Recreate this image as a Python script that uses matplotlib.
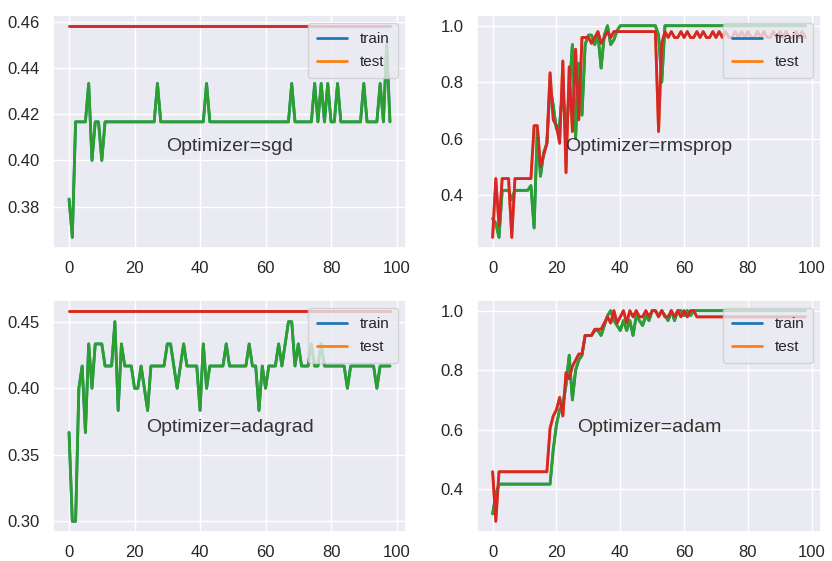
import matplotlib
matplotlib.use("Agg")
import matplotlib.pyplot as plt
import seaborn as sns

optimizers = ["sgd", "rmsprop", "adagrad", "adam"]
legend_labels = ["train", "test"]
text_prefix = "Optimizer="
x_ticks = [0, 20, 40, 60, 80, 100]
y_ticks = {
    "sgd": [0.38, 0.40, 0.42, 0.44, 0.46],
    "rmsprop": [0.4, 0.6, 0.8, 1.0],
    "adagrad": [0.30, 0.35, 0.40, 0.45],
    "adam": [0.4, 0.6, 0.8, 1.0],
}
y_tick_labels = {
    "sgd": ["0.38", "0.40", "0.42", "0.44", "0.46"],
    "rmsprop": ["0.4", "0.6", "0.8", "1.0"],
    "adagrad": ["0.30", "0.35", "0.40", "0.45"],
    "adam": ["0.4", "0.6", "0.8", "1.0"],
}

sgd_train = [
    0.3833, 0.3667, 0.4167, 0.4167, 0.4167, 0.4167, 0.4333, 0.4000, 0.4167, 0.4167,
    0.4000, 0.4167, 0.4167, 0.4167, 0.4167, 0.4167, 0.4167, 0.4167, 0.4167, 0.4167,
    0.4167, 0.4167, 0.4167, 0.4167, 0.4167, 0.4167, 0.4167, 0.4333, 0.4167, 0.4167,
    0.4167, 0.4167, 0.4167, 0.4167, 0.4167, 0.4167, 0.4167, 0.4167, 0.4167, 0.4167,
    0.4167, 0.4167, 0.4333, 0.4167, 0.4167, 0.4167, 0.4167, 0.4167, 0.4167, 0.4167,
    0.4167, 0.4167, 0.4167, 0.4167, 0.4167, 0.4167, 0.4167, 0.4167, 0.4167,
    0.4167, 0.4167, 0.4167, 0.4167, 0.4167, 0.4167, 0.4167, 0.4167, 0.4167, 0.4333,
    0.4167, 0.4167, 0.4167, 0.4167, 0.4167, 0.4167, 0.4333, 0.4167, 0.4333, 0.4167,
    0.4333, 0.4167, 0.4167, 0.4333, 0.4167, 0.4167, 0.4167, 0.4167, 0.4167, 0.4167,
    0.4167, 0.4333, 0.4167, 0.4167, 0.4167, 0.4167, 0.4333, 0.4167, 0.4500, 0.4167,
]
sgd_test = [
    0.4583, 0.4583, 0.4583, 0.4583, 0.4583, 0.4583, 0.4583, 0.4583, 0.4583, 0.4583,
    0.4583, 0.4583, 0.4583, 0.4583, 0.4583, 0.4583, 0.4583, 0.4583, 0.4583, 0.4583,
    0.4583, 0.4583, 0.4583, 0.4583, 0.4583, 0.4583, 0.4583, 0.4583, 0.4583, 0.4583,
    0.4583, 0.4583, 0.4583, 0.4583, 0.4583, 0.4583, 0.4583, 0.4583, 0.4583, 0.4583,
    0.4583, 0.4583, 0.4583, 0.4583, 0.4583, 0.4583, 0.4583, 0.4583, 0.4583, 0.4583,
    0.4583, 0.4583, 0.4583, 0.4583, 0.4583, 0.4583, 0.4583, 0.4583, 0.4583,
    0.4583, 0.4583, 0.4583, 0.4583, 0.4583, 0.4583, 0.4583, 0.4583, 0.4583, 0.4583,
    0.4583, 0.4583, 0.4583, 0.4583, 0.4583, 0.4583, 0.4583, 0.4583, 0.4583, 0.4583,
    0.4583, 0.4583, 0.4583, 0.4583, 0.4583, 0.4583, 0.4583, 0.4583, 0.4583, 0.4583,
    0.4583, 0.4583, 0.4583, 0.4583, 0.4583, 0.4583, 0.4583, 0.4583, 0.4583, 0.4583,
]

rmsprop_train = [
    0.3167, 0.3000, 0.2500, 0.4167, 0.4167, 0.4167, 0.3833, 0.4167, 0.4167, 0.4167,
    0.4167, 0.4167, 0.4333, 0.2833, 0.6333, 0.4667, 0.5500, 0.5833, 0.7833, 0.7167,
    0.6333, 0.6500, 0.7833, 0.6000, 0.7667, 0.9333, 0.6000, 0.8667, 0.6833, 0.9333,
    0.9667, 0.9667, 0.9333, 0.9667, 0.8500, 0.9667, 1.0000, 0.9333, 0.9500, 0.9833,
    1.0000, 1.0000, 1.0000, 1.0000, 1.0000, 1.0000, 1.0000, 1.0000, 1.0000, 1.0000,
    1.0000, 1.0000, 0.9667, 0.8000, 1.0000, 1.0000, 1.0000, 1.0000, 1.0000, 1.0000,
    1.0000, 1.0000, 1.0000, 1.0000, 1.0000, 1.0000, 1.0000, 1.0000, 1.0000, 1.0000,
    1.0000, 1.0000, 1.0000, 1.0000, 1.0000, 1.0000, 1.0000, 1.0000, 1.0000, 1.0000,
    1.0000, 1.0000, 1.0000, 1.0000, 1.0000, 1.0000, 1.0000, 1.0000, 1.0000, 1.0000,
    1.0000, 1.0000, 1.0000, 1.0000, 1.0000, 1.0000, 1.0000, 1.0000, 1.0000,
]
rmsprop_test = [
    0.2500, 0.4583, 0.2917, 0.4583, 0.4583, 0.4583, 0.2500, 0.4583, 0.4583, 0.4583,
    0.4583, 0.4583, 0.4583, 0.6458, 0.6458, 0.5000, 0.5417, 0.5833, 0.8333, 0.6667,
    0.6458, 0.5833, 0.8750, 0.4792, 0.8542, 0.6250, 0.9167, 0.6667, 0.9583, 0.9583,
    0.9583, 0.9375, 0.9583, 0.9792, 0.9375, 0.9583, 0.9792, 0.9583, 0.9792, 0.9792,
    0.9792, 0.9792, 0.9792, 0.9792, 0.9792, 0.9792, 0.9792, 0.9792, 0.9792, 0.9792,
    0.9792, 0.9792, 0.6250, 0.9375, 0.9792, 0.9583, 0.9792, 0.9583, 0.9583, 0.9792,
    0.9583, 0.9792, 0.9583, 0.9583, 0.9792, 0.9583, 0.9792, 0.9583, 0.9583, 0.9792,
    0.9583, 0.9792, 0.9583, 0.9792, 0.9583, 0.9583, 0.9792, 0.9583, 0.9792, 0.9583,
    0.9792, 0.9583, 0.9583, 0.9792, 0.9583, 0.9792, 0.9583, 0.9583, 0.9792, 0.9583,
    0.9792, 0.9583, 0.9792, 0.9583, 0.9583, 0.9792, 0.9583, 0.9792, 0.9583,
]

adagrad_train = [
    0.3667, 0.3000, 0.3000, 0.4000, 0.4167, 0.3667, 0.4333, 0.4000, 0.4333, 0.4333,
    0.4333, 0.4167, 0.4167, 0.4167, 0.4500, 0.3833, 0.4333, 0.4167, 0.4167, 0.4167,
    0.4000, 0.4000, 0.4167, 0.4000, 0.3833, 0.4167, 0.4167, 0.4167, 0.4167, 0.4167,
    0.4333, 0.4333, 0.4167, 0.4000, 0.4167, 0.4333, 0.4167, 0.4167, 0.4167, 0.4167,
    0.3833, 0.4333, 0.4000, 0.4167, 0.4167, 0.4167, 0.4167, 0.4167, 0.4333, 0.4167,
    0.4167, 0.4167, 0.4167, 0.4167, 0.4167, 0.4333, 0.4167, 0.4167, 0.3833,
    0.4167, 0.4000, 0.4167, 0.4167, 0.4167, 0.4333, 0.4167, 0.4333, 0.4500, 0.4500,
    0.4167, 0.4333, 0.4167, 0.4167, 0.4167, 0.4333, 0.4167, 0.4167, 0.4333, 0.4167,
    0.4167, 0.4167, 0.4167, 0.4167, 0.4167, 0.4167, 0.4000, 0.4167, 0.4167, 0.4167,
    0.4167, 0.4167, 0.4167, 0.4167, 0.4167, 0.4000, 0.4167, 0.4167, 0.4167, 0.4167,
]
adagrad_test = [
    0.4583, 0.4583, 0.4583, 0.4583, 0.4583, 0.4583, 0.4583, 0.4583, 0.4583, 0.4583,
    0.4583, 0.4583, 0.4583, 0.4583, 0.4583, 0.4583, 0.4583, 0.4583, 0.4583, 0.4583,
    0.4583, 0.4583, 0.4583, 0.4583, 0.4583, 0.4583, 0.4583, 0.4583, 0.4583, 0.4583,
    0.4583, 0.4583, 0.4583, 0.4583, 0.4583, 0.4583, 0.4583, 0.4583, 0.4583, 0.4583,
    0.4583, 0.4583, 0.4583, 0.4583, 0.4583, 0.4583, 0.4583, 0.4583, 0.4583, 0.4583,
    0.4583, 0.4583, 0.4583, 0.4583, 0.4583, 0.4583, 0.4583, 0.4583, 0.4583,
    0.4583, 0.4583, 0.4583, 0.4583, 0.4583, 0.4583, 0.4583, 0.4583, 0.4583, 0.4583,
    0.4583, 0.4583, 0.4583, 0.4583, 0.4583, 0.4583, 0.4583, 0.4583, 0.4583, 0.4583,
    0.4583, 0.4583, 0.4583, 0.4583, 0.4583, 0.4583, 0.4583, 0.4583, 0.4583, 0.4583,
    0.4583, 0.4583, 0.4583, 0.4583, 0.4583, 0.4583, 0.4583, 0.4583, 0.4583, 0.4583,
]

adam_train = [
    0.3167, 0.3833, 0.4167, 0.4167, 0.4167, 0.4167, 0.4167, 0.4167, 0.4167, 0.4167,
    0.4167, 0.4167, 0.4167, 0.4167, 0.4167, 0.4167, 0.4167, 0.4167, 0.4167, 0.5333,
    0.6167, 0.6667, 0.6833, 0.7500, 0.8500, 0.7000, 0.8000, 0.8333, 0.8500, 0.9167,
    0.9167, 0.9167, 0.9333, 0.9333, 0.9167, 0.9500, 0.9833, 1.0000, 0.9667, 0.9500,
    0.9333, 0.9667, 0.9333, 0.9667, 0.9167, 0.9833, 0.9667, 0.9500, 0.9833, 0.9667,
    1.0000, 1.0000, 0.9833, 1.0000, 0.9833, 0.9667, 1.0000, 0.9667, 1.0000, 1.0000,
    0.9833, 1.0000, 0.9833, 1.0000, 1.0000, 1.0000, 1.0000, 1.0000, 1.0000, 1.0000,
    1.0000, 1.0000, 1.0000, 1.0000, 1.0000, 1.0000, 1.0000, 1.0000, 1.0000, 1.0000,
    1.0000, 1.0000, 1.0000, 1.0000, 1.0000, 1.0000, 1.0000, 1.0000, 1.0000, 1.0000,
    1.0000, 1.0000, 1.0000, 1.0000, 1.0000, 1.0000, 1.0000, 1.0000, 1.0000,
]
adam_test = [
    0.4583, 0.2917, 0.4583, 0.4583, 0.4583, 0.4583, 0.4583, 0.4583, 0.4583, 0.4583,
    0.4583, 0.4583, 0.4583, 0.4583, 0.4583, 0.4583, 0.4583, 0.4583, 0.6042, 0.6458,
    0.6667, 0.7083, 0.6458, 0.7917, 0.7708, 0.8125, 0.8333, 0.8542, 0.8542, 0.9167,
    0.9167, 0.9167, 0.9375, 0.9375, 0.9375, 0.9583, 0.9792, 0.9583, 1.0000, 0.9583,
    0.9792, 1.0000, 0.9583, 1.0000, 0.9792, 1.0000, 0.9792, 0.9792, 1.0000, 0.9792,
    1.0000, 1.0000, 0.9792, 1.0000, 0.9792, 0.9792, 1.0000, 0.9792, 1.0000, 0.9792,
    1.0000, 0.9792, 1.0000, 1.0000, 0.9792, 0.9792, 0.9792, 0.9792, 0.9792, 0.9792,
    0.9792, 0.9792, 0.9792, 0.9792, 0.9792, 0.9792, 0.9792, 0.9792, 0.9792, 0.9792,
    0.9792, 0.9792, 0.9792, 0.9792, 0.9792, 0.9792, 0.9792, 0.9792, 0.9792, 0.9792,
    0.9792, 0.9792, 0.9792, 0.9792, 0.9792, 0.9792, 0.9792, 0.9792, 0.9792,
]

series = {
    "sgd": (sgd_train, sgd_test),
    "rmsprop": (rmsprop_train, rmsprop_test),
    "adagrad": (adagrad_train, adagrad_test),
    "adam": (adam_train, adam_test),
}

sns.set_theme(style="darkgrid")
plt.rcParams["font.family"] = ["Liberation Sans", "DejaVu Sans"]

c_blue, c_orange, c_green, c_red = "#1f77b4", "#ff7f0e", "#2ca02c", "#d62728"

fig = plt.figure(figsize=(8.32, 5.61), dpi=100)
rects = [
    [0.0637, 0.558, 0.4243, 0.415],
    [0.5733, 0.558, 0.4135, 0.415],
    [0.0637, 0.052, 0.4243, 0.413],
    [0.5733, 0.052, 0.4135, 0.413],
]
text_y = [0.437, 0.437, 0.45, 0.45]

for rect, name, ty in zip(rects, optimizers, text_y):
    ax = fig.add_axes(rect)
    train, test = series[name]
    epochs = list(range(len(train)))
    ax.plot(epochs, train, color=c_blue, lw=2.0, label=legend_labels[0])
    ax.plot(epochs, test, color=c_orange, lw=2.0, label=legend_labels[1])
    ax.plot(epochs, train, color=c_green, lw=2.0)
    ax.plot(epochs, test, color=c_red, lw=2.0)
    ax.legend(loc="upper right", fontsize=11, borderpad=0.6, labelspacing=0.6)
    ax.text(0.5, ty, text_prefix + name, transform=ax.transAxes,
            ha="center", va="center", fontsize=14, color="#333333")
    ax.set_xticks(x_ticks)
    ax.set_yticks(y_ticks[name])
    ax.set_yticklabels(y_tick_labels[name])
    ax.tick_params(labelsize=12)

fig.savefig("out.png", dpi=100)
